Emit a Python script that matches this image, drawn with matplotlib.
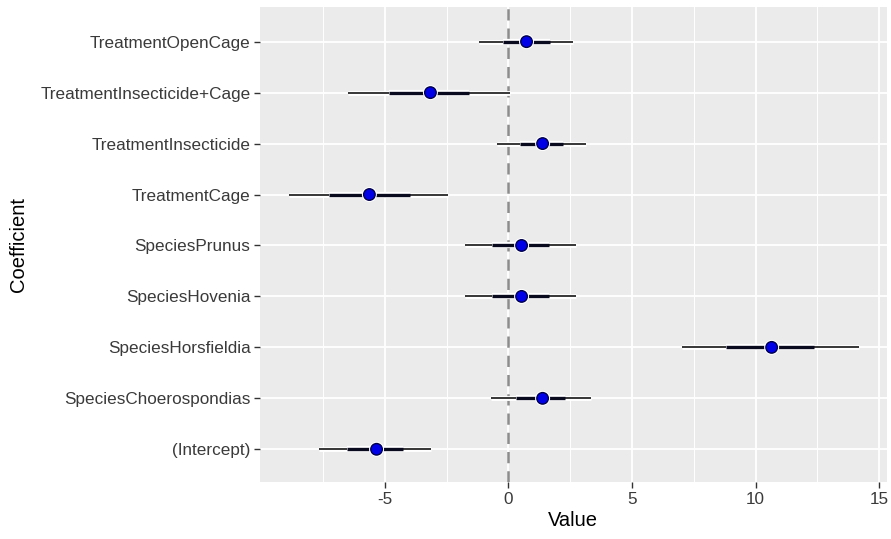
import matplotlib
matplotlib.use("Agg")
import matplotlib.pyplot as plt
import matplotlib.patheffects as pe

plt.rcParams['font.family'] = ['Liberation Sans', 'DejaVu Sans']
plt.rcParams['axes.unicode_minus'] = False

# coefficients, bottom to top
coefs = ['(Intercept)', 'SpeciesChoerospondias', 'SpeciesHorsfieldia', 'SpeciesHovenia',
         'SpeciesPrunus', 'TreatmentCage', 'TreatmentInsecticide',
         'TreatmentInsecticide+Cage', 'TreatmentOpenCage']
value = [-5.34, 1.38, 10.65, 0.53, 0.53, -5.63, 1.38, -3.16, 0.73]
inner_lo = [-6.52, 0.32, 8.79, -0.65, -0.65, -7.25, 0.45, -4.82, -0.24]
inner_hi = [-4.25, 2.30, 12.35, 1.62, 1.62, -4.00, 2.20, -1.58, 1.66]
outer_lo = [-7.65, -0.69, 7.04, -1.78, -1.78, -8.87, -0.45, -6.48, -1.21]
outer_hi = [-3.12, 3.32, 14.17, 2.75, 2.75, -2.43, 3.12, 0.08, 2.63]
xticks = [-5, 0, 5, 10, 15]
xminor = [-7.5, -2.5, 2.5, 7.5, 12.5]

fig = plt.figure(figsize=(8.91, 5.39), dpi=100)
ax = fig.add_axes([0.292, 0.105, 0.703, 0.882])
ax.set_facecolor('#EBEBEB')
for s in ax.spines.values():
    s.set_visible(False)

y = list(range(1, len(coefs) + 1))

ax.axvline(0, color='#8C8C8C', lw=1.8, ls=(0, (4.5, 3.2)), zorder=2)

halo = [pe.Stroke(linewidth=3.5, foreground='white'), pe.Normal()]
ax.hlines(y, outer_lo, outer_hi, color='black', lw=1.1, zorder=3,
          path_effects=halo)
ax.hlines(y, inner_lo, inner_hi, color='#0A0A1E', lw=2.4, zorder=4,
          path_effects=[pe.Stroke(linewidth=4.5, foreground='white'), pe.Normal()])
ax.plot(value, y, 'o', ms=8.3, mfc='#0000E6', mec='#00004D', mew=1.0, zorder=5,
        path_effects=[pe.Stroke(linewidth=2.5, foreground='white'), pe.Normal()])

ax.set_xlim(-10.05, 15.3)
ax.set_ylim(0.35, 9.68)
ax.set_xticks(xticks)
ax.set_xticks(xminor, minor=True)
ax.set_yticks(y)
ax.set_yticklabels(coefs)
ax.grid(which='major', color='white', lw=1.3, zorder=0)
ax.grid(which='minor', axis='x', color='white', lw=0.7, zorder=0)
ax.set_axisbelow(True)
ax.tick_params(which='major', length=4, width=1, color='#333333',
               labelsize=12.3, labelcolor='#3A3A3A', pad=3)
ax.tick_params(which='minor', length=0)

ax.set_xlabel('Value', fontsize=14.5, labelpad=3)
ax.set_ylabel('Coefficient', fontsize=14.5, labelpad=9)

fig.savefig('out.png', dpi=100)
